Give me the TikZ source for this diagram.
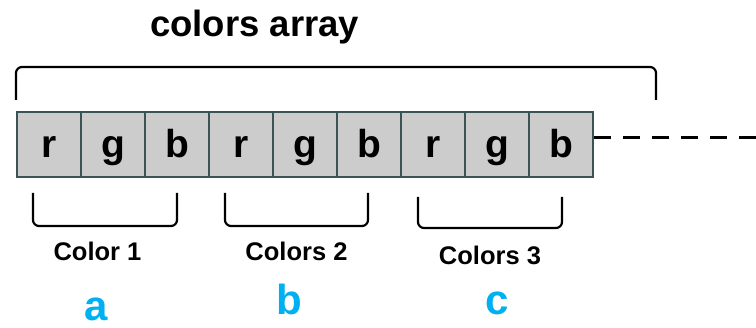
\documentclass[tikz,border=0pt]{standalone}
\usepackage{fontspec}
\setmainfont{Liberation Sans}
\usepackage{tikz}
\definecolor{cellgray}{HTML}{CCCCCC}
\definecolor{cellline}{HTML}{3B5353}
\definecolor{letterblue}{HTML}{00B0F0}

\begin{document}
\begin{tikzpicture}[x=1pt, y=-1pt,
        cell/.style={draw=cellline, fill=cellgray, line width=2pt, minimum width=64pt, minimum height=65pt,
            inner sep=0, text height=27pt, text depth=0pt, font=\fontsize{39}{40}\selectfont\bfseries},
        grp/.style={anchor=base, inner sep=0, font=\fontsize{25.5}{28}\selectfont\bfseries},
        tag/.style={anchor=base, inner sep=0, text depth=0pt, text=letterblue, font=\fontsize{42}{44}\selectfont\bfseries},
        brace/.style={line width=2.2pt, rounded corners=6pt}]
                \useasboundingbox (0,0) rectangle (756,328);
                \node (title) [anchor=base west, inner sep=0, font=\fontsize{36.5}{40}\selectfont\bfseries] at (150,37) {colors array};

                \node (c1) [cell] at (49,144.5) {r};
                \node (c2) [cell] at (113,144.5) {g};
                \node (c3) [cell] at (177,144.5) {b};
                \node (c4) [cell] at (241,144.5) {r};
                \node (c5) [cell] at (305,144.5) {g};
                \node (c6) [cell] at (369,144.5) {b};
                \node (c7) [cell] at (433,144.5) {r};
                \node (c8) [cell] at (497,144.5) {g};
                \node (c9) [cell] at (561,144.5) {b};

                % rest of the array
                \coordinate (tail) at (756,138);
                \draw [line width=3pt, dash pattern=on 17pt off 12pt] (c9.east |- tail) -- (tail);

                % whole array
                \draw [brace] (16,100) -- (16,67) -- (656,67) -- (656,100);

                % one colour each
                \draw [brace] (33,193) -- (33,226) -- (177,226) -- (177,193);
                \draw [brace] (225,193) -- (225,226) -- (368,226) -- (368,193);
                \draw [brace] (418,197) -- (418,228) -- (562,228) -- (562,197);

                \node (g1) [grp] at (97.5,261) {Color 1};
                \node (g2) [grp] at (296.5,261) {Colors 2};
                \node (g3) [grp] at (490,265) {Colors 3};

                \node (a) [tag] at (96,321) {a};
                \node (b) [tag] at (289.5,315) {b};
                \node (c) [tag] at (497.5,315) {c};
            \end{tikzpicture}
\end{document}
